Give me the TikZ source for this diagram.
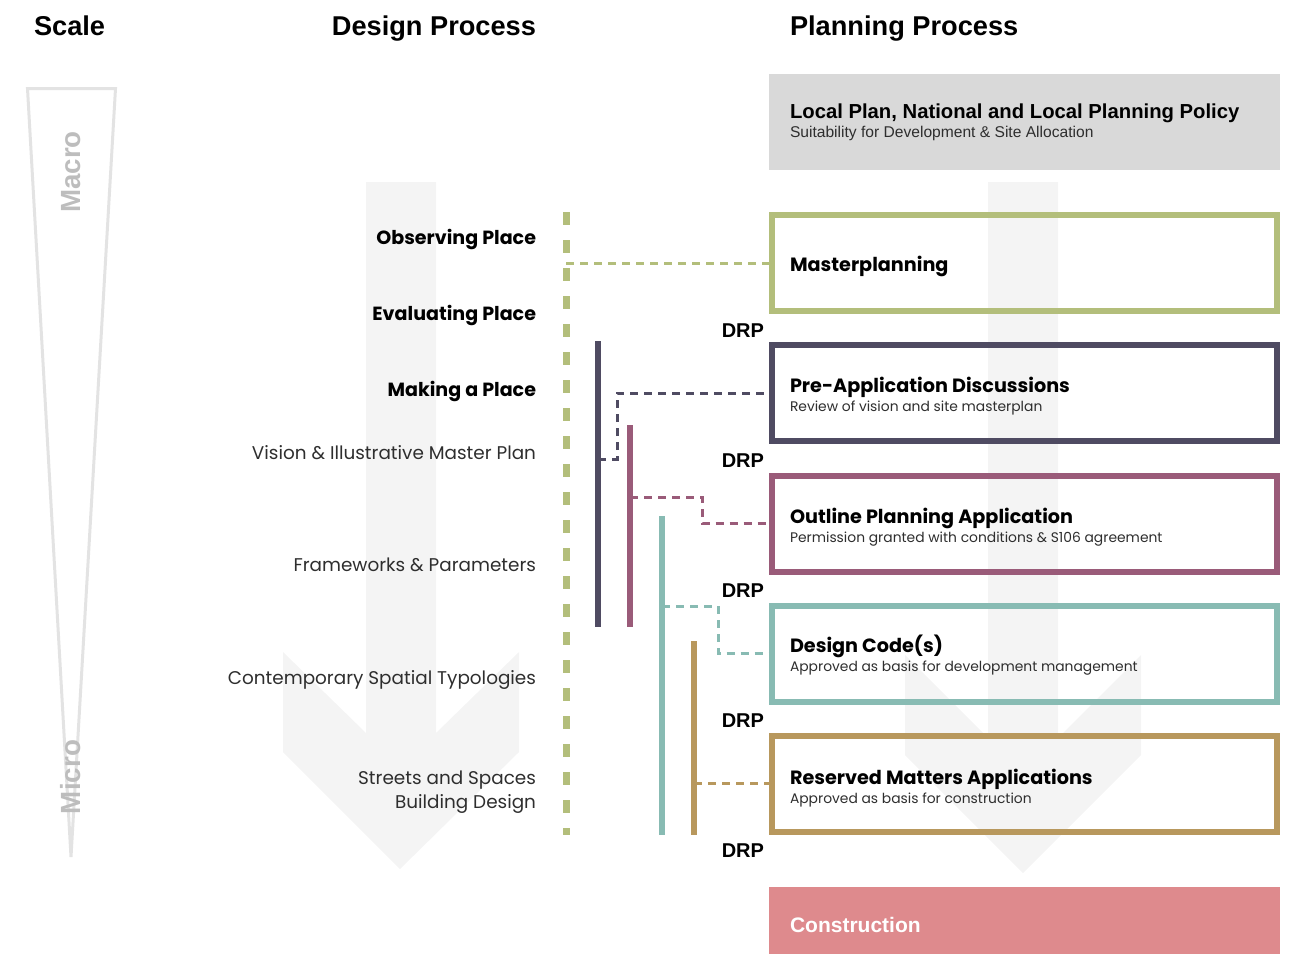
\documentclass[tikz,border=0pt]{standalone}
\usepackage{fontspec}
\setmainfont{Poppins}
\newfontfamily\helv{Liberation Sans}
\usetikzlibrary{positioning,calc}

\definecolor{mpgreen}{HTML}{B3BE7B}
\definecolor{paslate}{HTML}{4F4B62}
\definecolor{opamauve}{HTML}{9A5B79}
\definecolor{dcteal}{HTML}{88BBB3}
\definecolor{rmtan}{HTML}{B8985D}
\definecolor{policygray}{HTML}{D9D9D9}
\definecolor{buildpink}{HTML}{DE8A8D}
\definecolor{flowgray}{HTML}{F4F4F4}
\definecolor{conegray}{HTML}{E3E3E3}
\definecolor{zonegray}{HTML}{BDBDBD}
\definecolor{itemgray}{HTML}{2E2E2E}

\tikzset{
  every node/.append style={inner sep=0pt,outer sep=0pt},
  stage/.style={draw=#1,line width=4.5pt,outer sep=2.25pt,minimum width=378.75pt,minimum height=72pt},
  slab/.style={fill=#1,minimum width=383.25pt},
  head/.style={font=\helv\bfseries\fontsize{20.4}{24}\selectfont},
  stitle/.style={anchor=base west,text=black,font=\bfseries\fontsize{14.4}{17}\selectfont},
  ssub/.style={anchor=base west,text=itemgray,font=\fontsize{10.4}{12}\selectfont},
  keyitem/.style={anchor=base east,text=black,font=\bfseries\fontsize{14.3}{17}\selectfont},
  plainitem/.style={anchor=base east,text=itemgray,font=\fontsize{13.8}{16}\selectfont},
  drp/.style={anchor=base east,font=\helv\bfseries\fontsize{15}{18}\selectfont},
  zone/.style={rotate=90,text=zonegray,font=\helv\bfseries\fontsize{20.8}{24}\selectfont},
  flow/.style={fill=flowgray},
  cone/.style={draw=conegray,line width=2.25pt},
  link/.style={line width=2.25pt,dash pattern=on 6pt off 4.5pt},
  bar/.style={line width=5pt},
  spine/.style={mpgreen,line width=5.25pt,dash pattern=on 9.75pt off 11.25pt}
}

\begin{document}
\begin{tikzpicture}[x=0.75pt,y=-0.75pt]
\useasboundingbox (0,0) rectangle (1294,954);

% background flow arrows
\fill[flow] (366,182) -- (436,182) -- (436,733) -- (519,652) -- (519,752) -- (400,869)
  -- (283,752) -- (283,652) -- (366,733) -- cycle;
\fill[flow] (988,182) -- (1058,182) -- (1058,738) -- (1141,655) -- (1141,755) -- (1023,873)
  -- (905,755) -- (905,655) -- (988,738) -- cycle;

% scale
\draw[cone] (27.5,88.5) -- (115.5,88.5) -- (71,857) -- cycle;
\node[zone] (macro) at (71,172) {Macro};
\node[zone] (micro) at (71,777) {Micro};

\node[head,anchor=base west] (hscale) at (34,35) {Scale};
\node[head,anchor=base east] (hdesign) at (536,35) {Design Process};
\node[head,anchor=base west] (hplan) at (790,35) {Planning Process};

% planning stages
\node[slab=policygray,minimum height=72pt] (lp) at (1024.5,122) {};
\node[stage=mpgreen] (mp) at (1024.5,263) {};
\node[stage=paslate] (pa) at (1024.5,393) {};
\node[stage=opamauve] (opa) at (1024.5,523.5) {};
\node[stage=dcteal] (dc) at (1024.5,653.5) {};
\node[stage=rmtan] (rm) at (1024.5,783.5) {};
\node[slab=buildpink,minimum height=50.25pt] (con) at (1024.5,920.5) {};

\node[anchor=base west,font=\helv\bfseries\fontsize{15.2}{18}\selectfont] (lpt) at (790,118) {Local Plan, National and Local Planning Policy};
\node[anchor=base west,text=itemgray,font=\helv\fontsize{11.7}{14}\selectfont] (lps) at (790,137.5) {Suitability for Development \& Site Allocation};
\node[stitle] (mpt) at (790,271) {Masterplanning};
\node[stitle] (pat) at (790,392) {Pre-Application Discussions};
\node[ssub] (pas) at (790,411) {Review of vision and site masterplan};
\node[stitle] (opat) at (790,523) {Outline Planning Application};
\node[ssub] (opas) at (790,542) {Permission granted with conditions \& S106 agreement};
\node[stitle] (dct) at (790,652) {Design Code(s)};
\node[ssub] (dcs) at (790,671) {Approved as basis for development management};
\node[stitle] (rmt) at (790,784) {Reserved Matters Applications};
\node[ssub] (rms) at (790,803) {Approved as basis for construction};
\node[anchor=base west,text=white,font=\helv\bfseries\fontsize{15.75}{18}\selectfont] (cont) at (790,932.5) {Construction};

\node[drp] (drp1) at (764,337) {DRP};
\node[drp] (drp2) at (764,467) {DRP};
\node[drp] (drp3) at (764,597) {DRP};
\node[drp] (drp4) at (764,727) {DRP};
\node[drp] (drp5) at (764,857) {DRP};

% design process
\node[keyitem] (obs) at (536,244) {Observing Place};
\node[keyitem] (eval) at (536,320) {Evaluating Place};
\node[keyitem] (make) at (536,396) {Making a Place};
\node[plainitem] (vision) at (536,459) {Vision \& Illustrative Master Plan};
\node[plainitem] (frame) at (536,571) {Frameworks \& Parameters};
\node[plainitem] (typo) at (536,684) {Contemporary Spatial Typologies};
\node[plainitem] (streets) at (536,784) {Streets and Spaces};
\node[plainitem] (bldg) at (536,808) {Building Design};

% review lines
\coordinate (o1) at (566,212);
\coordinate (o2) at (566,835);
\coordinate (oj) at (566,263);
\coordinate (s1) at (598,341);
\coordinate (s2) at (598,627);
\coordinate (sj) at (598,459);
\coordinate (m1) at (630,425);
\coordinate (m2) at (630,627);
\coordinate (mj) at (630,497);
\coordinate (t1) at (662,516);
\coordinate (t2) at (662,835);
\coordinate (tj) at (662,606);
\coordinate (g1) at (694,641);
\coordinate (g2) at (694,835);
\coordinate (gj) at (694,783.5);

\draw[spine] (o1) -- (o2);
\draw[link,mpgreen] (oj) -- (mp.west);
\draw[link,paslate] (sj) -- ++(19,0) |- (pa.west);
\draw[bar,paslate] (s1) -- (s2);
\draw[link,opamauve] (mj) -- ++(72,0) |- (opa.west);
\draw[bar,opamauve] (m1) -- (m2);
\draw[link,dcteal] (tj) -- ++(56,0) |- (dc.west);
\draw[bar,dcteal] (t1) -- (t2);
\draw[link,rmtan] (gj) -- (rm.west);
\draw[bar,rmtan] (g1) -- (g2);
\end{tikzpicture}
\end{document}
